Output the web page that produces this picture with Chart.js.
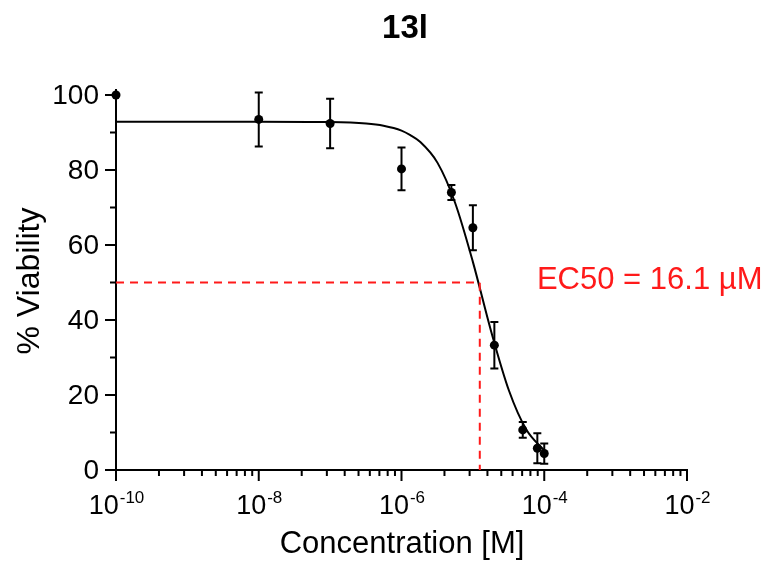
<!DOCTYPE html>
<html>
<head>
<meta charset="utf-8">
<title>13l</title>
<script src="https://cdn.jsdelivr.net/npm/chart.js@4.4.1/dist/chart.umd.min.js"></script>
<style>
  html, body { margin: 0; padding: 0; background: #fff; }
  #wrap { width: 770px; height: 561px; }
</style>
</head>
<body>
<div id="wrap"><canvas id="chart" width="770" height="561"></canvas></div>
<script>
/* ===== 13l dose-response (Chart.js) ===== */
const chartTitle = '13l';
const xAxisTitle = 'Concentration [M]';
const yAxisTitle = '% Viability';
const ec50Label = 'EC50 = 16.1 µM';

// measured points (mean ± error)
const concentrations = [1e-10, 1e-8, 1e-7, 1e-6, 5e-6, 1e-5, 2e-5, 5e-5, 8e-5, 1e-4];
const viability      = [100, 93.5, 92.4, 80.3, 74.0, 64.6, 33.3, 10.7, 5.8, 4.4];
const errors         = [0, 7.2, 6.6, 5.7, 2.0, 6.0, 6.2, 2.1, 4.0, 2.7];

// fitted curve
const fitX = [1e-10, 1e-8, 1e-7, 3.2e-7, 5.6e-7, 1e-6, 1.33e-6, 1.8e-6, 3.2e-6, 5.6e-6, 1e-5, 1.8e-5, 3.2e-5, 5.6e-5, 1e-4];
const fitY = [92.9, 92.9, 92.8, 92.4, 91.8, 90.5, 89.3, 87.6, 81.9, 71.4, 55.5, 37.0, 21.2, 10.8, 5.2];

// EC50 guide
const ec50X = [1e-10, 1.25e-5, 1.25e-5];
const ec50Y = [50, 50, 0];
const ec50LabelAt = { x: 7.9e-5, y: 50 };

// axis ticks
const xTickValues = [1e-10, 1e-8, 1e-6, 1e-4, 1e-2];
const xTickExponents = ['-10', '-8', '-6', '-4', '-2'];
const xMinorFactors = [4, 9, 16, 25, 36, 49, 64, 81];
const yTickValues = [0, 20, 40, 60, 80, 100];
const yMinorValues = [10, 30, 50, 70, 90];

const FONT = '"Liberation Sans", Arial, sans-serif';
const RED = '#ff1a1a';

const toPts = (xs, ys) => xs.map((x, i) => ({ x, y: ys[i] }));

const decorPlugin = {
  id: 'decor',
  beforeDatasetsDraw(chart) {
    const { ctx, scales: { x, y } } = chart;
    ctx.save();
    ctx.strokeStyle = '#000';
    ctx.lineWidth = 2;
    concentrations.forEach((c, i) => {
      if (!errors[i]) return;
      const px = x.getPixelForValue(c);
      const top = y.getPixelForValue(viability[i] + errors[i]);
      const bot = y.getPixelForValue(viability[i] - errors[i]);
      ctx.beginPath();
      ctx.moveTo(px, top); ctx.lineTo(px, bot);
      ctx.moveTo(px - 4, top); ctx.lineTo(px + 4, top);
      ctx.moveTo(px - 4, bot); ctx.lineTo(px + 4, bot);
      ctx.stroke();
    });
    ctx.restore();
  },
  afterDraw(chart) {
    const { ctx, chartArea: a, scales: { x, y } } = chart;
    ctx.save();
    ctx.strokeStyle = '#000';
    ctx.fillStyle = '#000';
    ctx.lineWidth = 2;

    // y ticks
    ctx.beginPath();
    yTickValues.forEach(v => { const py = y.getPixelForValue(v); ctx.moveTo(a.left, py); ctx.lineTo(a.left - 11, py); });
    yMinorValues.forEach(v => { const py = y.getPixelForValue(v); ctx.moveTo(a.left, py); ctx.lineTo(a.left - 6, py); });
    // x ticks
    xTickValues.forEach((v, i) => {
      const px = x.getPixelForValue(v);
      ctx.moveTo(px, a.bottom); ctx.lineTo(px, a.bottom + 11);
      if (i < xTickValues.length - 1) {
        xMinorFactors.forEach(f => {
          const mx = x.getPixelForValue(v * f);
          ctx.moveTo(mx, a.bottom); ctx.lineTo(mx, a.bottom + 6);
        });
      }
    });
    // y axis runs a little above 100
    ctx.moveTo(a.left, a.top); ctx.lineTo(a.left, a.top - 6);
    ctx.stroke();

    // y labels
    ctx.font = `28px ${FONT}`;
    ctx.textAlign = 'right';
    ctx.textBaseline = 'middle';
    yTickValues.forEach(v => ctx.fillText(String(v), a.left - 17, y.getPixelForValue(v) + 1));

    // x labels: 10 with superscript exponent
    ctx.textBaseline = 'alphabetic';
    ctx.textAlign = 'left';
    xTickValues.forEach((v, i) => {
      ctx.font = `27px ${FONT}`;
      const wBase = ctx.measureText('10').width;
      ctx.font = `17px ${FONT}`;
      const wExp = ctx.measureText(xTickExponents[i]).width;
      const start = x.getPixelForValue(v) - (wBase + wExp) / 2;
      ctx.font = `27px ${FONT}`;
      ctx.fillText('10', start, a.bottom + 44);
      ctx.font = `17px ${FONT}`;
      ctx.fillText(xTickExponents[i], start + wBase + 1, a.bottom + 33);
    });

    // axis titles
    ctx.textAlign = 'center';
    ctx.textBaseline = 'middle';
    ctx.font = `31px ${FONT}`;
    ctx.fillText(xAxisTitle, 402, a.bottom + 74);
    ctx.save();
    ctx.translate(30, 281);
    ctx.rotate(-Math.PI / 2);
    ctx.font = `32px ${FONT}`;
    ctx.fillText(yAxisTitle, 0, 0);
    ctx.restore();

    // chart title
    ctx.font = `bold 33px ${FONT}`;
    ctx.fillText(chartTitle, 405, 29);

    // EC50 label
    ctx.fillStyle = RED;
    ctx.font = `31px ${FONT}`;
    ctx.textAlign = 'left';
    ctx.textBaseline = 'alphabetic';
    ctx.fillText(ec50Label, x.getPixelForValue(ec50LabelAt.x), y.getPixelForValue(ec50LabelAt.y) + 6);
    ctx.restore();
  }
};

new Chart(document.getElementById('chart'), {
  type: 'scatter',
  data: {
    datasets: [
      {
        label: 'fit',
        data: toPts(fitX, fitY),
        showLine: true,
        borderColor: '#000',
        borderWidth: 2,
        pointRadius: 0,
        cubicInterpolationMode: 'monotone',
        order: 3
      },
      {
        label: 'EC50',
        data: toPts(ec50X, ec50Y),
        showLine: true,
        borderColor: RED,
        borderWidth: 2,
        borderDash: [8, 6],
        pointRadius: 0,
        order: 2
      },
      {
        label: '13l',
        data: toPts(concentrations, viability),
        pointRadius: 4.5,
        pointBackgroundColor: '#000',
        pointBorderWidth: 0,
        clip: false,
        order: 1
      }
    ]
  },
  options: {
    responsive: false,
    animation: false,
    events: [],
    layout: { padding: { left: 116, right: 83, top: 95, bottom: 91 } },
    plugins: { legend: { display: false }, tooltip: { enabled: false }, title: { display: false } },
    scales: {
      x: {
        type: 'logarithmic',
        min: 1e-10,
        max: 1e-2,
        ticks: { display: false },
        grid: { display: false, drawTicks: false },
        border: { display: true, color: '#000', width: 2 }
      },
      y: {
        type: 'linear',
        min: 0,
        max: 100,
        ticks: { display: false },
        grid: { display: false, drawTicks: false },
        border: { display: true, color: '#000', width: 2 }
      }
    }
  },
  plugins: [decorPlugin]
});
</script>
</body>
</html>
